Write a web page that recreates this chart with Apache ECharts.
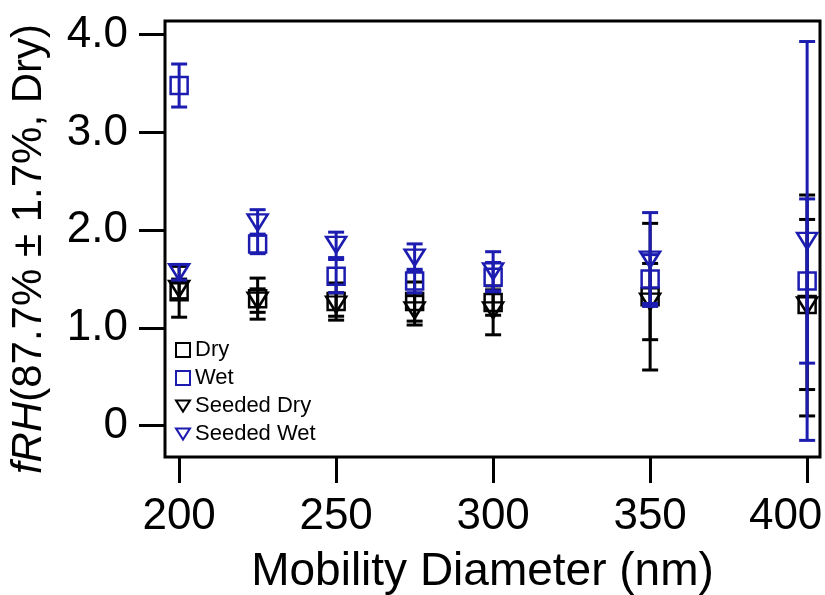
<!DOCTYPE html>
<html>
<head>
<meta charset="utf-8">
<script src="https://cdn.jsdelivr.net/npm/echarts@6/dist/echarts.min.js"></script>
<style>html,body{margin:0;padding:0;background:#fff}#c{width:825px;height:595px}</style>
</head>
<body>
<div id="c"></div>
<script>
const diameters = [200, 225, 250, 275, 300, 350, 400];
const dryVal = [1.37, 1.30, 1.27, 1.27, 1.26, 1.32, 1.24];
const dryErr = [0.26, 0.21, 0.19, 0.20, 0.13, 0.75, 0.87];
const wetVal = [3.48, 1.86, 1.53, 1.48, 1.52, 1.50, 1.48];
const wetErr = [0.22, 0.10, 0.17, 0.12, 0.15, 0.25, 0.84];
const seededDryVal = [1.40, 1.28, 1.24, 1.18, 1.18, 1.27, 1.23];
const seededDryErr = [0.10, 0.12, 0.12, 0.15, 0.25, 0.39, 1.13];
const seededWetVal = [1.57, 2.08, 1.85, 1.72, 1.58, 1.70, 1.89];
const seededWetErr = [0.08, 0.13, 0.13, 0.14, 0.20, 0.48, 2.04];
const xTicks = [200, 250, 300, 350, 400];
const yTicks = [0, 1, 2, 3, 4];

const BLACK = '#000000';
const BLUE = '#1c1cb0';
const FONT = '"Liberation Sans", Arial, sans-serif';
const downTri = 'path://M0,0 L20,0 L10,16 Z';

function pts(vals) { return diameters.map((d, i) => [d, vals[i]]); }
function errData(vals, errs) { return diameters.map((d, i) => [d, vals[i] - errs[i], vals[i] + errs[i]]); }

function errSeries(name, vals, errs, color, z) {
  return {
    type: 'custom', name: name + ' err', z: z, silent: true,
    data: errData(vals, errs),
    renderItem: function (params, api) {
      const x = api.value(0);
      const lo = api.coord([x, api.value(1)]);
      const hi = api.coord([x, api.value(2)]);
      const w = 8;
      const st = { stroke: color, lineWidth: 3 };
      return {
        type: 'group',
        children: [
          { type: 'line', shape: { x1: lo[0], y1: lo[1], x2: hi[0], y2: hi[1] }, style: st },
          { type: 'line', shape: { x1: lo[0] - w, y1: lo[1], x2: lo[0] + w, y2: lo[1] }, style: st },
          { type: 'line', shape: { x1: hi[0] - w, y1: hi[1], x2: hi[0] + w, y2: hi[1] }, style: st }
        ]
      };
    }
  };
}

function markSeries(name, vals, color, symbol, size, z) {
  return {
    type: 'scatter', name: name, z: z,
    data: pts(vals),
    symbol: symbol, symbolSize: size,
    itemStyle: { color: 'rgba(0,0,0,0)', borderColor: color, borderWidth: 2.5, opacity: 1 }
  };
}

const chart = echarts.init(document.getElementById('c'), null, { renderer: 'canvas' });
chart.setOption({
  animation: false,
  backgroundColor: '#ffffff',
  grid: { left: 165, right: 5, top: 21, bottom: 138, outerBoundsMode: 'none', containLabel: false,
    show: true, borderColor: BLACK, borderWidth: 3, backgroundColor: 'transparent' },
  xAxis: {
    type: 'value', min: 195.5, max: 404.1,
    axisLine: { show: false, onZero: false },
    splitLine: { show: false },
    axisTick: { show: true, inside: false, length: 26, lineStyle: { color: BLACK, width: 3 }, customValues: xTicks },
    axisLabel: { customValues: xTicks, color: BLACK, fontSize: 44, fontFamily: FONT, margin: 38,
      formatter: v => v === 400 ? '{r|' + v + '}' : String(v),
      rich: { r: { fontSize: 44, fontFamily: FONT, color: BLACK, padding: [0, 43, 0, 0] } } },
    name: 'Mobility Diameter (nm)', nameLocation: 'middle', nameGap: 92,
    nameTextStyle: { color: BLACK, fontSize: 46, fontFamily: FONT, padding: [0, 20, 0, 0] }
  },
  yAxis: {
    type: 'value', min: -0.32, max: 4.14,
    axisLine: { show: false, onZero: false },
    splitLine: { show: false },
    axisTick: { show: true, inside: false, length: 26, lineStyle: { color: BLACK, width: 3 }, customValues: yTicks },
    axisLabel: { customValues: yTicks, color: BLACK, fontSize: 44, fontFamily: FONT, margin: 37,
      formatter: v => v === 0 ? '0' : v.toFixed(1) },
    name: '{i|fRH}(87.7% ± 1.7%, Dry)', nameLocation: 'middle', nameGap: 115,
    nameTextStyle: { color: BLACK, fontSize: 42, fontFamily: FONT, padding: [0, 20, 0, 0],
      rich: { i: { fontStyle: 'italic', fontSize: 42, fontFamily: FONT, color: BLACK } } }
  },
  legend: {
    orient: 'vertical', left: 170, top: 334, itemWidth: 14, itemHeight: 14, itemGap: 6,
    textStyle: { color: BLACK, fontSize: 22, fontFamily: FONT },
    data: [
      { name: 'Dry', icon: 'rect', itemStyle: { color: 'rgba(0,0,0,0)', borderColor: BLACK, borderWidth: 2 } },
      { name: 'Wet', icon: 'rect', itemStyle: { color: 'rgba(0,0,0,0)', borderColor: BLUE, borderWidth: 2 } },
      { name: 'Seeded Dry', icon: downTri, itemStyle: { color: 'rgba(0,0,0,0)', borderColor: BLACK, borderWidth: 2 } },
      { name: 'Seeded Wet', icon: downTri, itemStyle: { color: 'rgba(0,0,0,0)', borderColor: BLUE, borderWidth: 2 } }
    ]
  },
  series: [
    errSeries('Dry', dryVal, dryErr, BLACK, 2),
    errSeries('Seeded Dry', seededDryVal, seededDryErr, BLACK, 2),
    markSeries('Dry', dryVal, BLACK, 'rect', [17, 17], 3),
    markSeries('Seeded Dry', seededDryVal, BLACK, downTri, [20, 16], 3),
    errSeries('Wet', wetVal, wetErr, BLUE, 4),
    errSeries('Seeded Wet', seededWetVal, seededWetErr, BLUE, 4),
    markSeries('Wet', wetVal, BLUE, 'rect', [17, 17], 5),
    markSeries('Seeded Wet', seededWetVal, BLUE, downTri, [20, 16], 5)
  ]
});
</script>
</body>
</html>
